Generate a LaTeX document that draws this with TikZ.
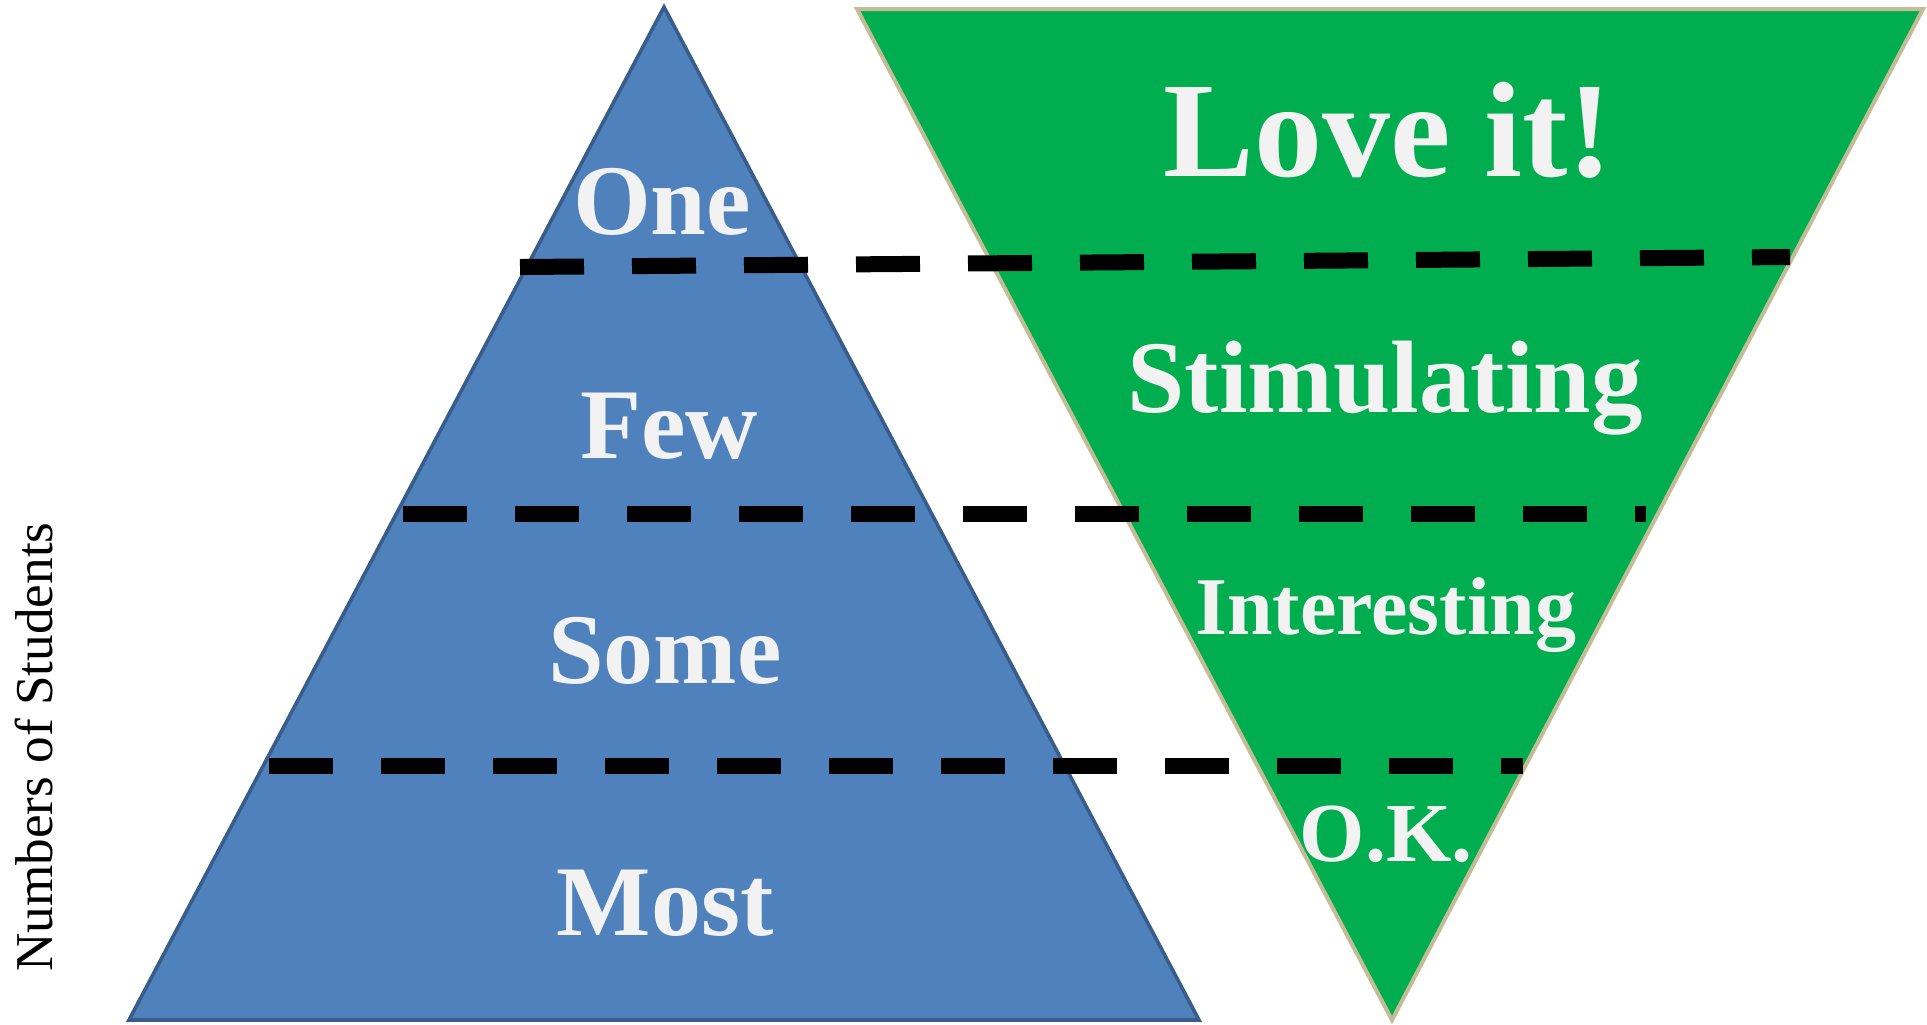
\documentclass[tikz,border=0pt]{standalone}
\usepackage{fontspec}
\setmainfont{Liberation Serif}
\definecolor{pyrblue}{HTML}{4F81BD}
\definecolor{pyredge}{HTML}{385D8A}
\definecolor{funnelgreen}{HTML}{00AD4F}
\definecolor{funneledge}{HTML}{C4BC96}
\definecolor{labeltext}{HTML}{F2F2F2}
\begin{document}
\begin{tikzpicture}[x=0.5pt,y=-0.5pt,
  level/.style={text=labeltext, font=\bfseries\fontsize{50}{60}\selectfont, anchor=base, inner sep=0pt},
  divider/.style={line width=8pt, dash pattern=on 32pt off 24pt, line cap=butt}]
\useasboundingbox (0,0) rectangle (1927,1024);

% corners of the two triangles
\coordinate (pTop) at (664,7);
\coordinate (pLeft) at (129,1020);
\coordinate (pRight) at (1199,1020);
\coordinate (fLeft) at (857,9);
\coordinate (fRight) at (1923,9);
\coordinate (fTip) at (1392,1020);

% pyramid: numbers of students
\draw[fill=pyrblue, draw=pyredge, line width=1.8pt, line join=miter] (pTop) -- (pRight) -- (pLeft) -- cycle;
% inverted triangle: level of engagement
\draw[fill=funnelgreen, draw=funneledge, line width=2pt, line join=miter] (fLeft) -- (fRight) -- (fTip) -- cycle;

% pyramid labels
\node[level] (one)  at (662,234) {One};
\node[level] (few)  at (669,458) {Few};
\node[level] (some) at (665,683) {Some};
\node[level] (most) at (665,935) {Most};

% funnel labels
\node[level, font=\bfseries\fontsize{68}{80}\selectfont] (love) at (1388,176) {Love it!};
\node[level, font=\bfseries\fontsize{51.5}{60}\selectfont] (stim) at (1385,412) {Stimulating};
\node[level, font=\bfseries\fontsize{41}{48}\selectfont] (inter) at (1386,634) {Interesting};
\node[level, font=\bfseries\fontsize{42}{50}\selectfont] (ok) at (1386,861) {O.K.};

% axis label
\node[rotate=90, anchor=base, inner sep=0pt, font=\fontsize{26.6}{32}\selectfont] (axis) at (52,747) {Numbers of Students};

% dashed dividers between levels
\coordinate (d1a) at (520,267);
\coordinate (d1b) at (1790,257);
\coordinate (d2a) at (403,514);
\coordinate (d2b) at (1646,514);
\coordinate (d3a) at (269,766);
\coordinate (d3b) at (1523,766);
\draw[divider] (d1a) -- (d1b);
\draw[divider] (d2a) -- (d2b);
\draw[divider] (d3a) -- (d3b);
\end{tikzpicture}
\end{document}
